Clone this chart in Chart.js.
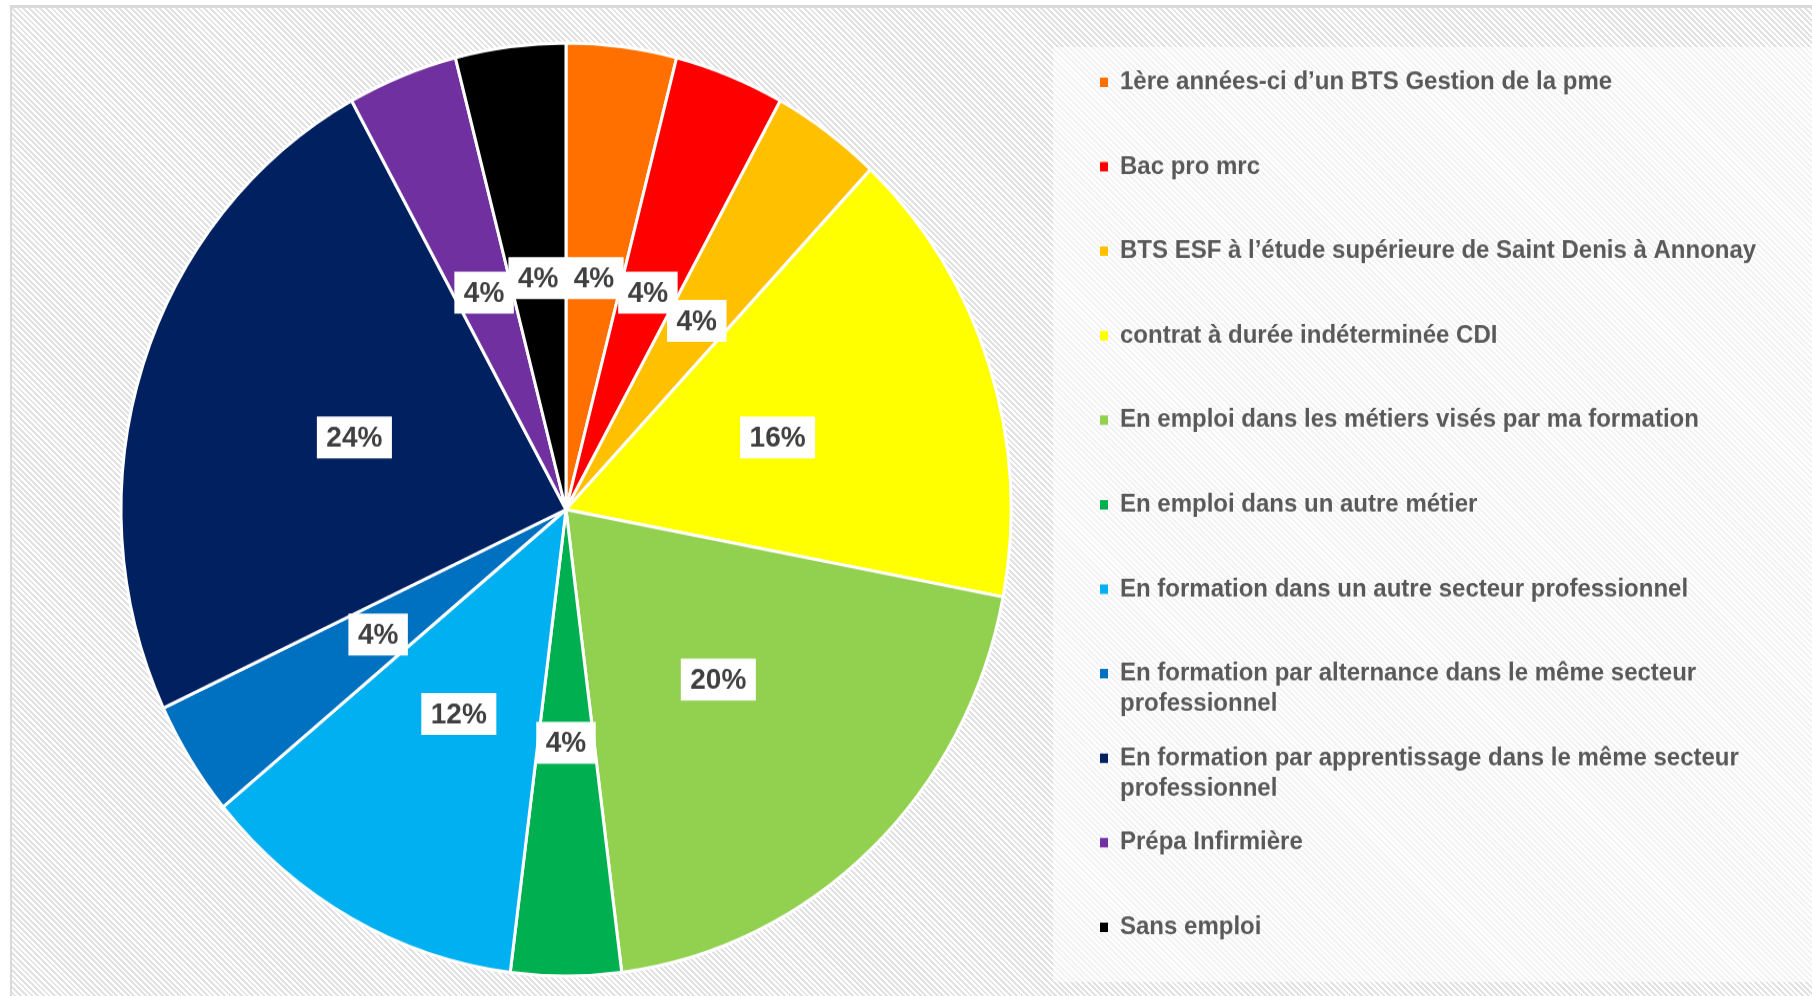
<!DOCTYPE html>
<html>
<head>
<meta charset="utf-8">
<script src="https://cdn.jsdelivr.net/npm/chart.js@4"></script>
<style>
  html, body { margin: 0; padding: 0; background: #fff; overflow: hidden; }
  #frame {
    position: absolute; left: 10px; top: 5px; width: 1820px; height: 1000px;
    border-left: 2px solid #d9d9d9; border-top: 3px solid #d9d9d9;
    background: repeating-linear-gradient(45deg, #fff 0 2px, #e2e2e2 2px 4px);
  }
  #legendBg {
    position: absolute; left: 1053px; top: 47px; width: 770px; height: 935px;
    background: rgba(255, 255, 255, 0.6);
  }
  /* the reference picture is stretched a little vertically */
  #wrap {
    position: absolute; left: 0; top: 0; width: 1812px; height: 953px;
    transform: scaleY(1.0484); transform-origin: 0 0;
  }
</style>
</head>
<body>
<div id="frame"></div>
<div id="legendBg"></div>
<div id="wrap"><canvas id="chart" width="1812" height="953"></canvas></div>
<script>
const categories = [
  '1ère années-ci d’un BTS Gestion de la pme',
  'Bac pro mrc',
  'BTS ESF à l’étude supérieure de Saint Denis à Annonay',
  'contrat à durée indéterminée CDI',
  'En emploi dans les métiers visés par ma formation',
  'En emploi dans un autre métier',
  'En formation dans un autre secteur professionnel',
  'En formation par alternance dans le même secteur professionnel',
  'En formation par apprentissage dans le même secteur professionnel',
  'Prépa Infirmière',
  'Sans emploi'
]
const shares = [4, 4, 4, 16, 20, 4, 12, 4, 24, 4, 4]
const sliceColors = ['#FF7000', '#FF0000', '#FFC000', '#FFFF00', '#92D050', '#00B050',
                     '#00B0F0', '#0070C0', '#002060', '#7030A0', '#000000']

const fontFamily = '"Liberation Sans", Arial, sans-serif'
const legendSize = 24
const legendPad = 23

// every legend entry gets two lines so that all entries keep the same pitch
const legendLines = categories.map(c => {
  if (c.length <= 56) return [c, '']
  const cut = c.lastIndexOf(' ')
  return [c.slice(0, cut), c.slice(cut + 1)]
})

// measure the widest legend line to place the legend where the reference has it
const probe = document.createElement('canvas').getContext('2d')
probe.font = 'bold ' + legendSize + 'px ' + fontFamily
let widest = 0
legendLines.forEach(l => {
  const longest = l.reduce((a, b) => a.length > b.length ? a : b)
  widest = Math.max(widest, probe.measureText(longest).width)
})
const legendLeft = 1077
const padRight = Math.max(0, 1812 - legendLeft - (legendPad + 10 + 8 + legendSize / 2 + widest))

const sliceLabels = {
  id: 'sliceLabels',
  afterDatasetsDraw(chart) {
    const ctx = chart.ctx
    const meta = chart.getDatasetMeta(0)
    ctx.save()
    ctx.font = 'bold 28px ' + fontFamily
    ctx.textAlign = 'center'
    ctx.textBaseline = 'middle'
    meta.data.forEach((arc, i) => {
      const p = arc.getProps(['x', 'y', 'startAngle', 'endAngle', 'outerRadius'], true)
      const mid = (p.startAngle + p.endAngle) / 2
      const px = p.x + Math.cos(mid) * p.outerRadius * 0.5
      const py = p.y + Math.sin(mid) * p.outerRadius * 0.5
      const text = shares[i] + '%'
      const w = ctx.measureText(text).width + 19
      const h = 40
      ctx.fillStyle = '#fff'
      ctx.fillRect(px - w / 2, py - h / 2, w, h)
      ctx.fillStyle = '#404040'
      ctx.fillText(text, px, py + 1)
    })
    ctx.restore()
  }
}

new Chart(document.getElementById('chart'), {
  type: 'pie',
  data: {
    labels: categories,
    datasets: [{
      data: shares,
      backgroundColor: sliceColors,
      borderColor: '#ffffff',
      borderWidth: 3
    }]
  },
  options: {
    responsive: false,
    animation: false,
    radius: 445,
    layout: {
      padding: { left: 2 * 566 - legendLeft, right: padRight, top: 19, bottom: 0 }
    },
    plugins: {
      tooltip: { enabled: false },
      legend: {
        position: 'right',
        align: 'end',
        labels: {
          boxWidth: 8,
          boxHeight: 9,
          padding: legendPad,
          color: '#595959',
          font: { family: fontFamily, size: legendSize, weight: 'bold', lineHeight: 1.2 },
          generateLabels: () => legendLines.map((lines, i) => ({
            text: lines,
            fillStyle: sliceColors[i],
            strokeStyle: sliceColors[i],
            lineWidth: 0,
            fontColor: '#595959',
            hidden: false,
            index: i
          }))
        }
      }
    }
  },
  plugins: [sliceLabels]
})
</script>
</body>
</html>
